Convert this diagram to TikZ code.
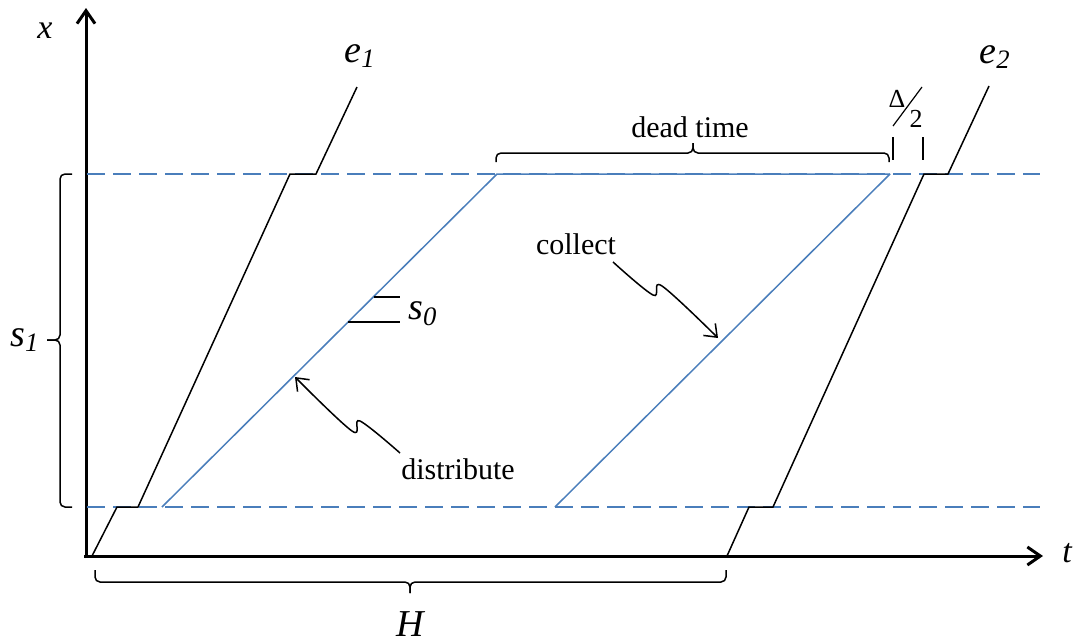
\documentclass[tikz,border=0pt]{standalone}
\usepackage{fontspec}
\setmainfont{Liberation Serif}
\usetikzlibrary{arrows.meta}
\definecolor{lblue}{HTML}{4A7EBB}
\begin{document}
\begin{tikzpicture}[x=0.5pt,y=-0.5pt,
  axis/.style={line width=1.5pt,-{Straight Barb[length=6.5pt,width=9pt]}},
  blk/.style={line width=0.75pt},
  blu/.style={lblue,line width=0.75pt},
  bdash/.style={blu,dash pattern=on 9pt off 4pt},
  wig/.style={line width=0.75pt,-{Straight Barb[length=5.5pt,width=8.5pt]}},
  brc/.style={line width=0.75pt,rounded corners=2.5pt},
  lbl/.style={inner sep=0pt,font=\fontsize{15}{18}\selectfont},
  ilbl/.style={inner sep=0pt,font=\fontsize{17}{20}\selectfont\itshape},
  slbl/.style={inner sep=0pt,font=\fontsize{19}{22}\selectfont\itshape},
  small/.style={inner sep=0pt,font=\fontsize{13}{15}\selectfont}]
\useasboundingbox (0,0) rectangle (1077,643);
% axes
\coordinate (O) at (86,556);
\coordinate (Ytop) at (86,8);
\coordinate (Xend) at (1043,556);
\coordinate (Ybot) at (86,558);
\draw[line width=1.5pt] (Ybot) -- (O);
\draw[axis] (Ybot) -- (Ytop);
\draw[axis] (84,556) -- (Xend);
\node[ilbl] (xl) at (45,31) {x};
\node[ilbl] (tl) at (1067,553) {t};
% dashed levels
\coordinate (T0) at (87,174); \coordinate (T1) at (1040,174);
\coordinate (B0) at (87,507); \coordinate (B1) at (1040,507);
\draw[bdash] (T0) -- (T1);
\draw[bdash] (B0) -- (B1);
% blue lines
\coordinate (d0) at (162,507); \coordinate (d1) at (497,174);
\coordinate (c0) at (555,507); \coordinate (c1) at (890,174);
\draw[blu] (d0) -- (d1) -- (c1);
\draw[blu] (c0) -- (c1);
% e1, e2
\coordinate (e1a) at (92,556); \coordinate (e1b) at (117,507); \coordinate (e1c) at (138,507);
\coordinate (e1d) at (290,174); \coordinate (e1e) at (316,174); \coordinate (e1f) at (357,87);
\draw[blk] (e1a) -- (e1b) -- (e1c) -- (e1d) -- (e1e) -- (e1f);
\coordinate (e2a) at (727,556); \coordinate (e2b) at (749,507); \coordinate (e2c) at (773,507);
\coordinate (e2d) at (924,174); \coordinate (e2e) at (948,174); \coordinate (e2f) at (989,86);
\draw[blk] (e2a) -- (e2b) -- (e2c) -- (e2d) -- (e2e) -- (e2f);
\node[slbl] (e1l) at (360,56) {e\textsubscript{1}};
\node[slbl] (e2l) at (995,57) {e\textsubscript{2}};
% s0
\coordinate (s0a) at (374,297); \coordinate (s0b) at (400,297);
\coordinate (s0c) at (348,322); \coordinate (s0d) at (400,322);
\draw[blk] (s0a) -- (s0b);
\draw[blk] (s0c) -- (s0d);
\node[slbl] (s0l) at (423,314) {s\textsubscript{0}};
% s1 brace
\draw[brc] (72,174) -- (60,174) -- (60,340) -- (47,340);
\draw[brc] (47,340) -- (60,340) -- (60,507) -- (72,507);
\node[slbl] (s1l) at (25,340) {s\textsubscript{1}};
% H brace
\draw[brc] (95,570) -- (95,582) -- (410,582) -- (410,593);
\draw[brc] (410,593) -- (410,582) -- (726,582) -- (726,570);
\node[slbl] (Hl) at (410,624) {H};
% dead time brace
\draw[brc] (496,162) -- (496,153) -- (693,153) -- (693,143);
\draw[brc] (693,143) -- (693,153) -- (889,153) -- (889,162);
\node[lbl] (dt) at (690,127) {dead time};
% delta/2
\draw[blk] (893,137) -- (893,160);
\draw[blk] (923,137) -- (923,160);
\node[small] (dl) at (897,99) {Δ};
\node[small] (two) at (916,119) {2};
\draw[line width=0.6pt] (893,126) -- (922,87);
% labels with wiggly arrows
\node[lbl] (dist) at (458,469) {distribute};
\node[lbl] (coll) at (576,244) {collect};
\coordinate (da) at (400,453); \coordinate (db) at (360,421); \coordinate (dc) at (352,431); \coordinate (dd) at (295,377);
\draw[wig] plot[smooth,tension=0.6] coordinates {(da) (db) (dc) (dd)};
\coordinate (ca) at (613,262); \coordinate (cb) at (653,295); \coordinate (cc) at (662,286); \coordinate (cd) at (718,338);
\draw[wig] plot[smooth,tension=0.6] coordinates {(ca) (cb) (cc) (cd)};
\end{tikzpicture}
\end{document}
